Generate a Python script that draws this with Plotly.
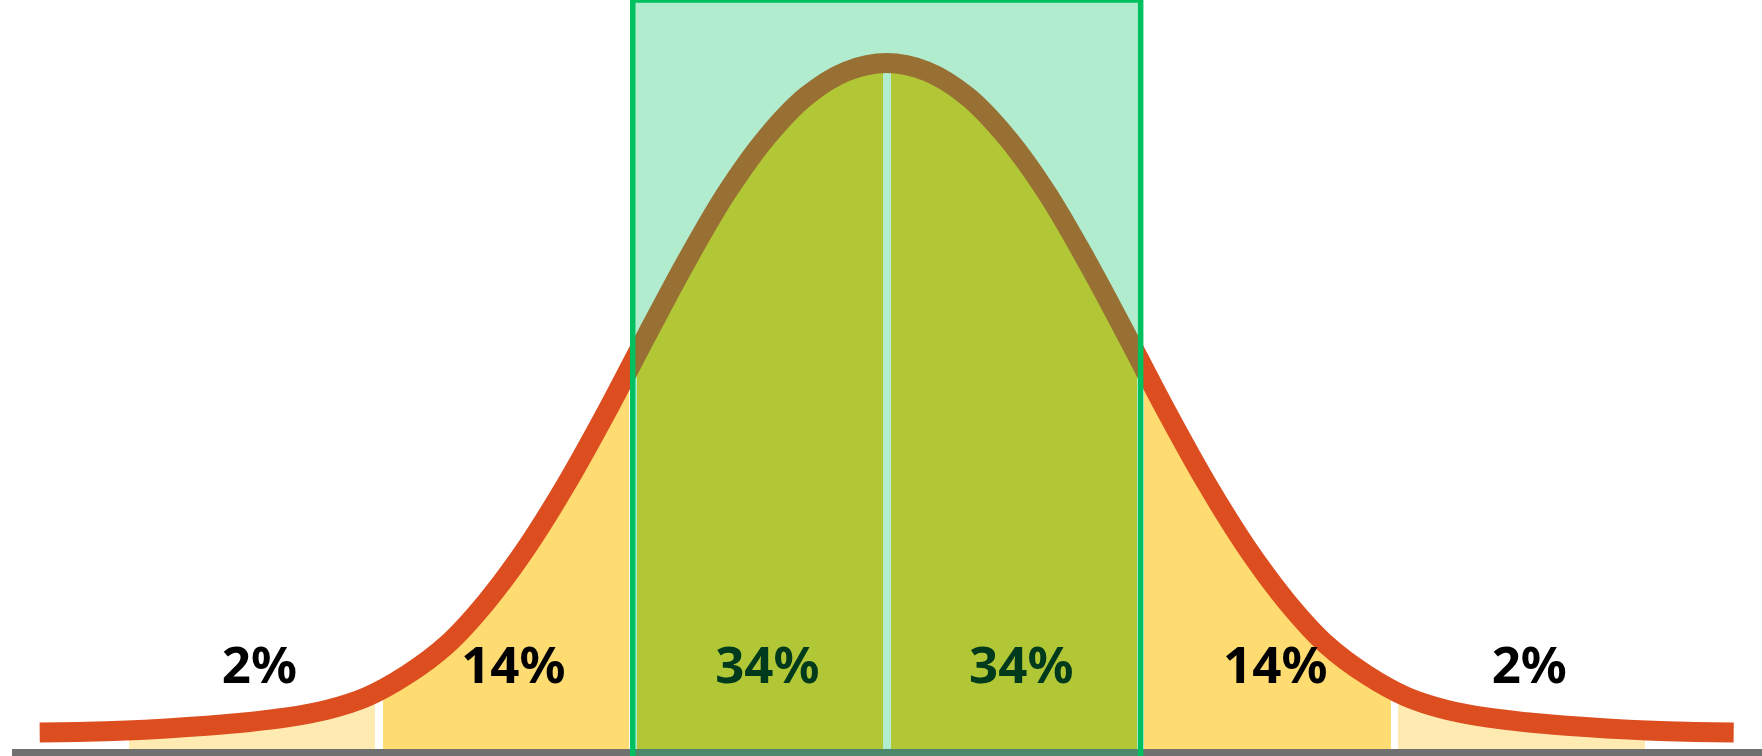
import plotly.graph_objects as go

# ---- data ----
# bell curve: x in standard deviations from the mean, y = relative height (peak = 1)
half_z = [0.000, 0.157, 0.315, 0.472, 0.630, 0.787, 0.945, 1.102, 1.260, 1.417, 1.575,
          1.732, 1.890, 2.047, 2.205, 2.362, 2.520, 2.677, 2.835, 2.992, 3.150, 3.335]
half_h = [1.000, 0.988, 0.952, 0.892, 0.811, 0.712, 0.603, 0.492, 0.387, 0.294, 0.215,
          0.152, 0.108, 0.076, 0.057, 0.046, 0.039, 0.034, 0.030, 0.027, 0.025, 0.024]

band_lo = [-3, -2, -1, 0, 1, 2]
band_hi = [-2, -1, 0, 1, 2, 3]
band_labels = ["2%", "14%", "34%", "34%", "14%", "2%"]
band_colors = ["#FFEBB1", "#FFDC72", "#FFCB25", "#FFCB25", "#FFDC72", "#FFEBB1"]

# full symmetric curve (left half mirrored from the readings)
curve_z = [-z for z in half_z[::-1]] + half_z[1:]
curve_h = half_h[::-1] + half_h[1:]

# ---- geometry / style ----
W, H = 1762, 756
X_RANGE = [-3.4913, 3.4465]
Y_RANGE = [-0.0102, 1.0918]
TOP = Y_RANGE[1] + 0.01
BAR_W = 0.97
LABEL_Y = 0.115
SMOOTH = 1.0
CURVE_COLOR = "#DC4E20"
AXIS_COLOR = "#707070"

centers = [(a + b) / 2 for a, b in zip(band_lo, band_hi)]

fig = go.Figure()

# band fills (bars)
fig.add_trace(go.Bar(
    x=centers, y=[max(curve_h)] * len(centers), width=BAR_W,
    marker=dict(color=band_colors, line=dict(width=0)),
    hoverinfo="skip",
))

# white mask above the curve
fig.add_trace(go.Scatter(
    x=[curve_z[0], curve_z[-1]], y=[TOP, TOP], mode="lines",
    line=dict(width=0, color="white"), hoverinfo="skip",
))
fig.add_trace(go.Scatter(
    x=curve_z, y=curve_h, mode="lines",
    line=dict(width=0, color="white", shape="spline", smoothing=SMOOTH, simplify=False),
    fill="tonexty", fillcolor="white", hoverinfo="skip",
))

# baseline axis
fig.add_trace(go.Scatter(
    x=[-3.444, X_RANGE[1] + 0.1], y=[-0.0051, -0.0051], mode="lines",
    line=dict(width=7, color=AXIS_COLOR), hoverinfo="skip",
))

# the curve
fig.add_trace(go.Scatter(
    x=curve_z, y=curve_h, mode="lines",
    line=dict(width=20, color=CURVE_COLOR, shape="spline", smoothing=SMOOTH, simplify=False),
    hoverinfo="skip",
))

# band labels
fig.add_trace(go.Scatter(
    x=[c + 0.03 for c in centers], y=[LABEL_Y] * len(centers),
    mode="text", text=band_labels, textposition="middle center",
    textfont=dict(family="Noto Sans", size=51, color="black", weight=700),
    hoverinfo="skip",
))

# translucent highlight of the central +-1 sigma region
fig.add_shape(
    type="rect", xref="x", yref="y", x0=-1, x1=1, y0=Y_RANGE[0] - 0.05, y1=Y_RANGE[1],
    line=dict(color="#00C060", width=5.5), fillcolor="rgba(0,192,96,0.3)", layer="above",
)

fig.update_layout(
    width=W, height=H, margin=dict(l=0, r=0, t=0, b=0),
    paper_bgcolor="white", plot_bgcolor="white", showlegend=False,
    xaxis=dict(range=X_RANGE, visible=False, fixedrange=True),
    yaxis=dict(range=Y_RANGE, visible=False, fixedrange=True),
    bargap=0,
)

fig.write_html("out.html")
